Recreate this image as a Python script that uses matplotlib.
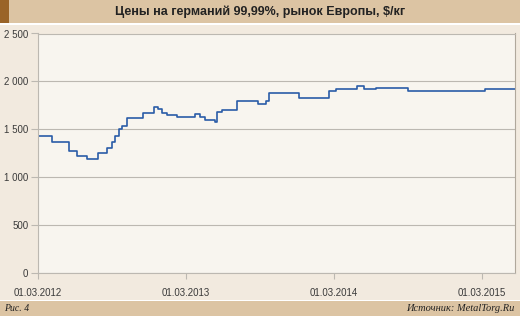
import matplotlib
matplotlib.use("Agg")
import matplotlib.pyplot as plt
import matplotlib.dates as mdates
from matplotlib.patches import Rectangle
import pandas as pd

# change points of the weekly price, $/kg
dates = ["2012-03-01", "2012-04-04", "2012-05-17", "2012-06-06", "2012-07-01",
         "2012-07-28", "2012-08-18", "2012-08-31", "2012-09-08", "2012-09-18",
         "2012-09-25", "2012-10-06", "2012-11-16", "2012-12-12", "2012-12-23",
         "2012-12-31", "2013-01-13", "2013-02-08", "2013-03-24", "2013-04-05",
         "2013-04-16", "2013-05-12", "2013-05-16", "2013-05-29", "2013-07-05",
         "2013-08-27", "2013-09-15", "2013-09-22", "2013-12-04", "2014-02-16",
         "2014-03-07", "2014-04-27", "2014-05-15", "2014-06-14", "2014-09-01",
         "2015-03-09", "2015-05-22"]
prices = [1430, 1370, 1275, 1225, 1190,
          1250, 1310, 1370, 1430, 1500,
          1530, 1620, 1670, 1730, 1715,
          1670, 1650, 1630, 1660, 1630,
          1600, 1580, 1680, 1700, 1800,
          1760, 1800, 1875, 1825, 1900,
          1920, 1950, 1920, 1935, 1900,
          1920, 1920]

x_ticks = ["2012-03-01", "2013-03-01", "2014-03-01", "2015-03-01"]
y_ticks = [0, 500, 1000, 1500, 2000, 2500]
y_labels = ["0", "500", "1 000", "1 500", "2 000", "2 500"]

title = "Цены на германий 99,99%, рынок Европы, $/кг"
fig_label = "Рис. 4"
source = "Источник: MetalTorg.Ru"

bg = "#f2eadf"
plot_bg = "#f8f5ef"
bar = "#dcc4a3"
dark = "#9a6428"
grid = "#bcb8b1"
line_col = "#2a5ca8"
text_col = "#3a3a3a"

W, H = 520, 316
fig = plt.figure(figsize=(W / 100, H / 100), dpi=100, facecolor=bg)

# header and footer bands
fig.patches.append(Rectangle((0, 1 - 23 / H), 1, 23 / H, transform=fig.transFigure,
                             facecolor=bar, edgecolor="none", zorder=0))
fig.patches.append(Rectangle((0, 1 - 23 / H), 9 / W, 23 / H, transform=fig.transFigure,
                             facecolor=dark, edgecolor="none", zorder=1))
fig.patches.append(Rectangle((0, 1 - 25 / H), 1, 2 / H, transform=fig.transFigure,
                             facecolor="white", edgecolor="none", zorder=1))
fig.patches.append(Rectangle((0, 0), 1, 15 / H, transform=fig.transFigure,
                             facecolor=bar, edgecolor="none", zorder=0))
fig.patches.append(Rectangle((0, 15 / H), 1, 1.5 / H, transform=fig.transFigure,
                             facecolor="white", edgecolor="none", zorder=1))

fig.text(0.5, 1 - 11.5 / H, title, ha="center", va="center", fontsize=9,
         fontweight="bold", color="#222222", family="Liberation Sans")
fig.text(4 / W, 7.5 / H, fig_label, ha="left", va="center", fontsize=7,
         style="italic", color="#222222", family="Liberation Serif")
fig.text(1 - 5 / W, 7.5 / H, source, ha="right", va="center", fontsize=7.5,
         style="italic", color="#222222", family="Liberation Serif")

left, right = 38 / W, 515 / W
bottom, top = 1 - 273 / H, 1 - 33.5 / H
ax = fig.add_axes([left, bottom, right - left, top - bottom])
ax.set_facecolor(plot_bg)

x = pd.to_datetime(dates)
ax.plot(x, prices, drawstyle="steps-post", color=line_col, lw=1.2)

ax.set_ylim(0, 2500)
ax.set_xlim(pd.Timestamp("2012-03-01"), pd.Timestamp("2015-05-22"))
ax.set_yticks(y_ticks)
ax.set_yticklabels(y_labels)
ax.set_xticks(pd.to_datetime(x_ticks))
ax.xaxis.set_major_formatter(mdates.DateFormatter("%d.%m.%Y"))
ax.yaxis.grid(True, color=grid, lw=0.8)
ax.set_axisbelow(True)

for s in ax.spines.values():
    s.set_color(grid)
    s.set_linewidth(0.8)
ax.spines["right"].set_color("#b0a89c")

for lab in ax.get_xticklabels() + ax.get_yticklabels():
    lab.set_family("Liberation Sans")
ax.tick_params(axis="y", length=5, width=0.8, color=grid, labelsize=7,
               labelcolor=text_col, pad=2)
ax.tick_params(axis="x", length=4, width=0.8, color=grid, labelsize=7,
               labelcolor=text_col, pad=7)

fig.savefig("out.png", dpi=100, facecolor=bg)
